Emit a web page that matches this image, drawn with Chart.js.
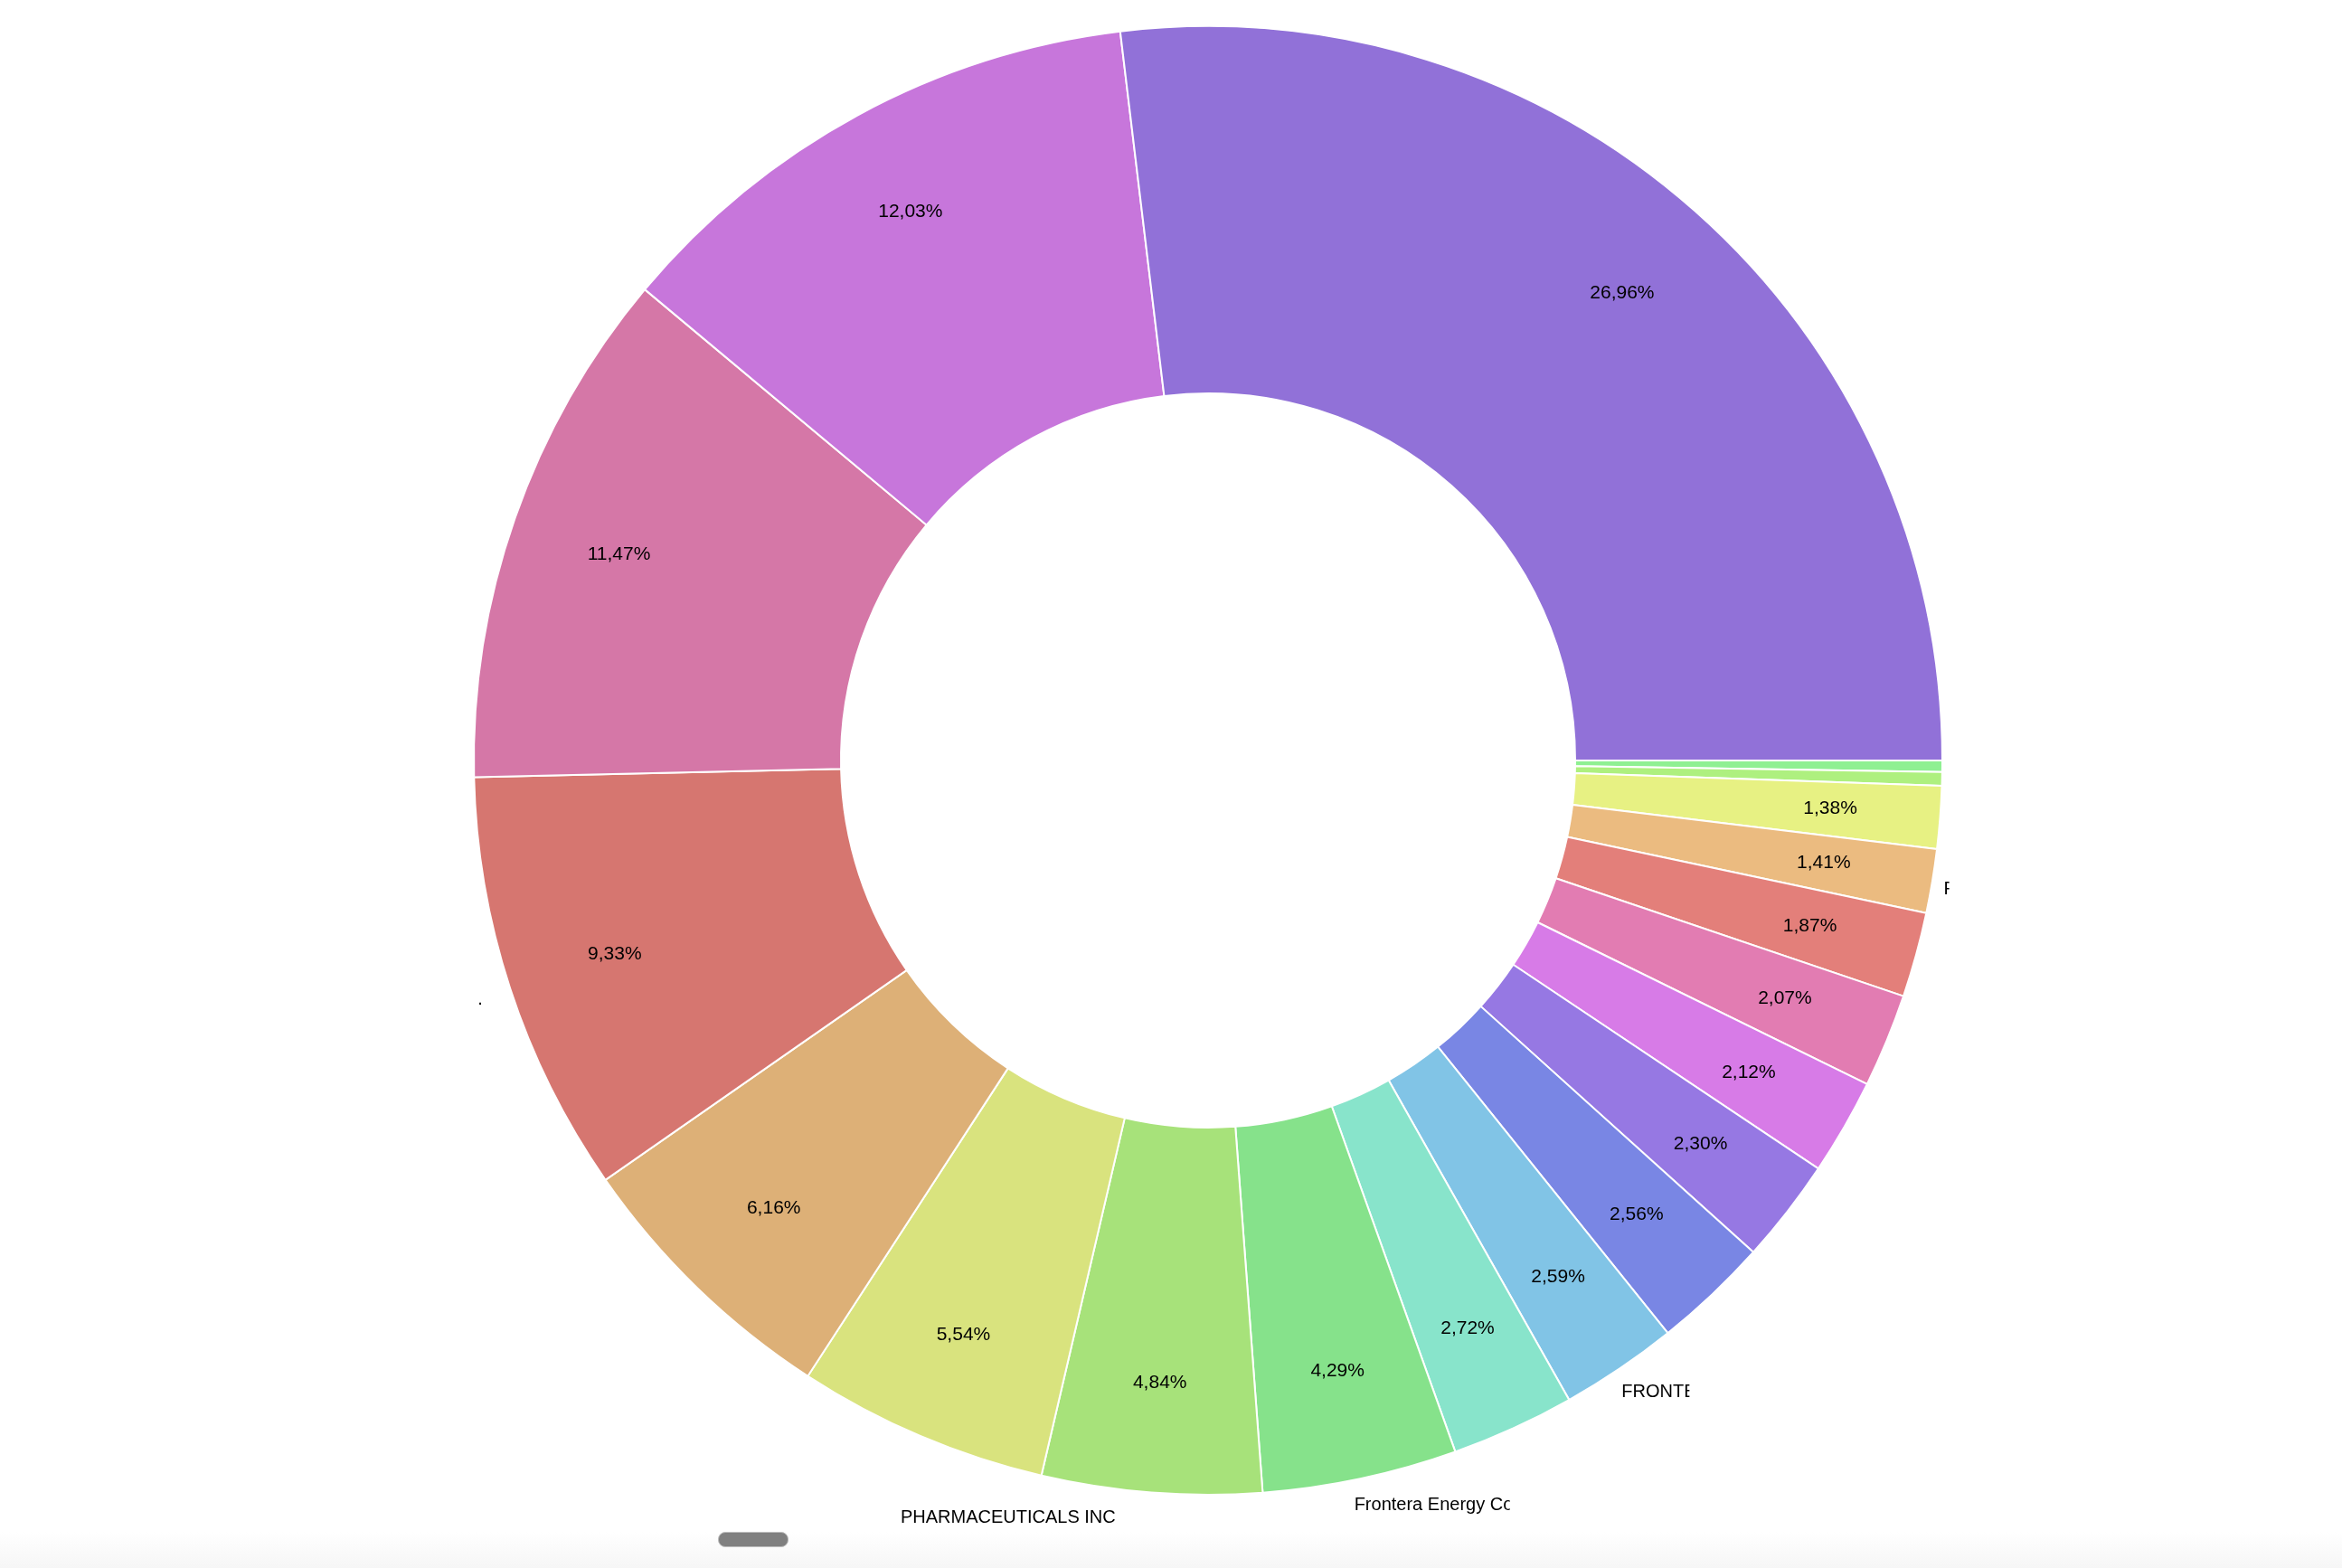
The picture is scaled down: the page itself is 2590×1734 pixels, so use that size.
<!DOCTYPE html>
<html>
<head>
<meta charset="utf-8">
<script src="https://cdn.jsdelivr.net/npm/chart.js@4.4.0/dist/chart.umd.min.js"></script>
<style>
  html, body { margin: 0; padding: 0; background: #fff; }
  #wrap { position: relative; width: 2590px; height: 1734px; overflow: hidden; }
  #bottomBar { position: absolute; left: 0; top: 1694px; width: 2590px; height: 40px;
    background: linear-gradient(#ffffff, #f6f6f6); }
  #pill { position: absolute; left: 794px; top: 1694px; width: 78px; height: 17px;
    border-radius: 8px; background: #808080; border: 1px solid #bdbdbd; box-sizing: border-box; }
  #chart { position: absolute; left: 0; top: 0; }
</style>
</head>
<body>
<div id="wrap">
  <div id="bottomBar"></div>
  <div id="pill"></div>
  <canvas id="chart" width="2590" height="1734"></canvas>
</div>
<script>
// shares in %, biggest first (as the colours run)
const shares = [26.96, 12.03, 11.47, 9.33, 6.16, 5.54, 4.84, 4.29, 2.72, 2.59, 2.56, 2.30, 2.12, 2.07, 1.87, 1.41, 1.38, 0.30, 0.25];
const names = ['', '', '', '.', '', ['', '', 'PHARMACEUTICALS INC'], '', 'Frontera Energy Corp', '', 'FRONTERA ENERGY CORP',
    '', '', '', '', '', 'F', '', '', ''];
const colors = ['#9171d8', '#c776db', '#d577a7', '#d67670', '#ddb077', '#d9e37e', '#a7e27a', '#86e28b', '#88e4cb',
    '#81c4e6', '#7986e4', '#9678e3', '#d77be7', '#e27cb2', '#e37f7a', '#ebbb80', '#e7f183', '#aef07f', '#8ff092'];

// the picture runs smallest -> biggest clockwise from 3 o'clock
const data = shares.slice().reverse();
const labels = names.slice().reverse();
const bg = colors.slice().reverse();

const fmt = v => v.toFixed(2).replace('.', ',') + '%';

const sliceLabels = {
    id: 'sliceLabels',
    afterDatasetsDraw(chart, args, opts) {
        const c = chart.ctx;
        const meta = chart.getDatasetMeta(0);
        c.save();
        c.fillStyle = '#000';
        meta.data.forEach((arc, i) => {
            const p = arc.getProps(['x', 'y', 'startAngle', 'endAngle', 'innerRadius', 'outerRadius'], true);
            const mid = (p.startAngle + p.endAngle) / 2;
            const v = data[i];
            if (v >= 1) {
                const r = p.innerRadius + 0.7 * (p.outerRadius - p.innerRadius);
                c.font = opts.valueFont;
                c.textAlign = 'center';
                c.textBaseline = 'middle';
                c.fillText(fmt(v), p.x + Math.cos(mid) * r, p.y + Math.sin(mid) * r);
            }
            const name = labels[i];
            if (name && name.length) {
                const lines = Array.isArray(name) ? name : [name];
                const r = p.outerRadius + opts.nameOffset;
                const x = p.x + Math.cos(mid) * r + opts.shiftX;
                const y = p.y + Math.sin(mid) * r + opts.shiftY;
                c.font = opts.nameFont;
                lines.forEach((line, k) => {
                    if (!line) return;
                    const ly = y + k * opts.lineHeight;
                    c.save();
                    const w = opts.clip[line];
                    if (w) {
                        c.beginPath();
                        c.rect(x, ly - 20, w, 40);
                        c.clip();
                    }
                    c.textAlign = 'left';
                    c.textBaseline = 'middle';
                    c.fillText(line, x, ly);
                    c.restore();
                });
            }
        });
        c.restore();
    }
};

const ctx = document.getElementById('chart');

new Chart(ctx, {
    type: 'doughnut',
    data: {
        labels: labels,
        datasets: [{
            data: data,
            backgroundColor: bg,
            borderColor: '#fff',
            borderWidth: 2
        }]
    },
    options: {
        responsive: false,
        animation: false,
        rotation: 90,
        cutout: '50%',
        layout: {
            padding: { left: 522, right: 440, top: 28, bottom: 80 }
        },
        plugins: {
            legend: { display: false },
            tooltip: { enabled: false },
            sliceLabels: {
                valueFont: '21px "Liberation Sans", Arial, sans-serif',
                nameFont: '20px "Liberation Sans", Arial, sans-serif',
                nameOffset: 25,
                shiftX: -12,
                shiftY: 5,
                lineHeight: 31,
                clip: { 'F': 6, 'FRONTERA ENERGY CORP': 75, 'Frontera Energy Corp': 172 }
            }
        }
    },
    plugins: [sliceLabels]
});
</script>
</body>
</html>
